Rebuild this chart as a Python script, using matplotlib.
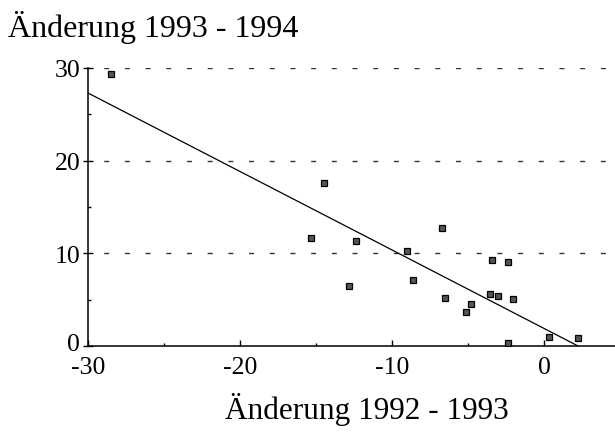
import matplotlib
matplotlib.use("Agg")
import matplotlib.pyplot as plt
import matplotlib.transforms as mtransforms
from matplotlib.ticker import MultipleLocator

# Änderung 1992-1993 (x) gegen Änderung 1993-1994 (y)
x_werte = [-28.5, -14.5, -15.3, -12.4, -12.8, -6.7, -9.0, -3.4, -2.4, -8.6,
           -6.5, -3.55, -3.05, -2.06, -4.8, -5.15, 0.35, 2.26, -2.4]
y_werte = [29.3, 17.6, 11.7, 11.3, 6.5, 12.7, 10.3, 9.3, 9.1, 7.1,
           5.2, 5.6, 5.4, 5.1, 4.5, 3.7, 1.0, 0.9, 0.35]

linie_x = [-30, 2.24]
linie_y = [27.3, 0.0]

gitter_y = [10, 20, 30]
x_ticks = [-30, -20, -10, 0]
y_ticks = [0, 10, 20, 30]

plt.rcParams['font.family'] = ['Liberation Serif', 'DejaVu Serif']

fig = plt.figure(figsize=(6.15, 4.39), dpi=100)
ax = fig.add_axes([88/615, 1-347/439, 1-88/615, (347-69)/439])

for g in gitter_y:
    ax.axhline(g, color='#333333', lw=1.0, linestyle=(3.6, (3.6, 11.3)), zorder=1)

ax.plot(linie_x, linie_y, color='black', lw=0.9, zorder=2)
ax.plot(x_werte, y_werte, linestyle='none', marker='s', markersize=5,
        markerfacecolor='#555555', markeredgecolor='black', markeredgewidth=0.9, zorder=3)

ax.set_xlim(-30, 4.67)
ax.set_ylim(0, 30)
ax.set_xticks(x_ticks)
ax.set_yticks(y_ticks)
ax.set_xticklabels([str(t) for t in x_ticks])
ax.xaxis.set_minor_locator(MultipleLocator(5))
ax.yaxis.set_minor_locator(MultipleLocator(5))

for s in ['top', 'right']:
    ax.spines[s].set_visible(False)
for s in ['left', 'bottom']:
    ax.spines[s].set_linewidth(1.1)

ax.tick_params(axis='x', which='major', direction='in', length=4.5, width=1, labelsize=18.5, pad=7)
ax.tick_params(axis='x', which='minor', direction='in', length=2.5, width=1)
ax.tick_params(axis='y', which='major', direction='inout', length=7, width=1, labelsize=18.5, pad=2)
ax.tick_params(axis='y', which='minor', direction='in', length=2, width=1)

# die "0" der y-Achse etwas anheben, damit sie nicht auf "-30" sitzt
null_label = ax.get_yticklabels()[0]
null_label.set_transform(null_label.get_transform() +
                         mtransforms.ScaledTranslation(0, 3/72, fig.dpi_scale_trans))

fig.text(8/615, 1-27/439, 'Änderung 1993 - 1994', fontsize=23, ha='left', va='center')
fig.text(367/615, 1-410/439, 'Änderung 1992 - 1993', fontsize=22.5, ha='center', va='center')

fig.savefig('out.png', dpi=100)
